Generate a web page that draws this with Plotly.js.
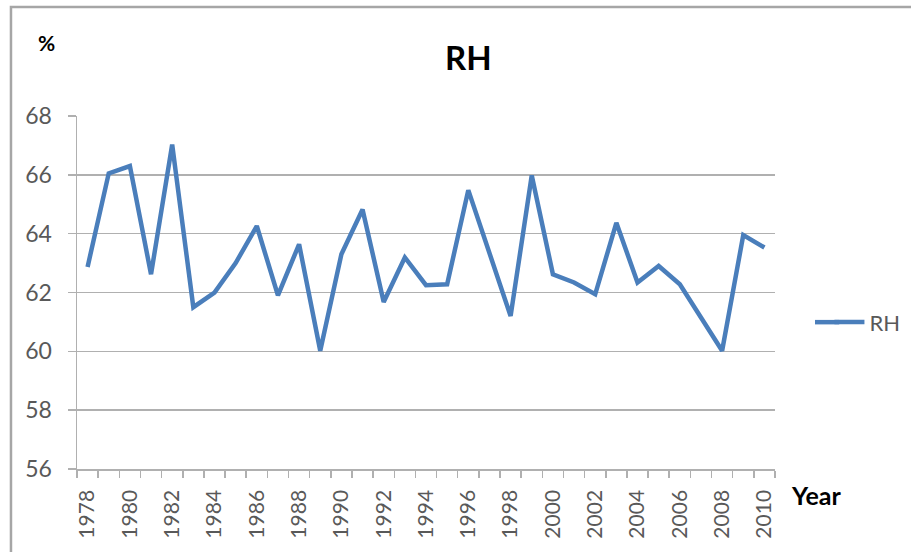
<!DOCTYPE html>
<html>
<head>
<meta charset="utf-8">
<script src="https://cdn.plot.ly/plotly-3.0.1.min.js"></script>
<style>html,body{margin:0;padding:0;background:#fff;}#chart{width:911px;height:552px;}</style>
</head>
<body>
<div id="chart"></div>
<script>
const years = [1978,1979,1980,1981,1982,1983,1984,1985,1986,1987,1988,1989,1990,1991,1992,1993,1994,1995,1996,1997,1998,1999,2000,2001,2002,2003,2004,2005,2006,2007,2008,2009,2010];
const rh = [62.87,66.05,66.3,62.62,67.03,61.5,62.0,63.0,64.26,61.9,63.64,60.02,63.3,64.82,61.68,63.19,62.25,62.28,65.48,63.3,61.2,65.98,62.62,62.34,61.94,64.37,62.34,62.9,62.28,61.15,60.02,63.95,63.53];
const tickYears = years.filter(y => y % 2 === 0);
const tickLabels = tickYears.map(String);
const seriesName = 'RH';

const font = 'Lato, "Open Sans", sans-serif';
const lineColor = '#4a7ebb';
const trace = {
  x: years, y: rh, type: 'scatter', mode: 'lines', name: seriesName,
  line: {color: lineColor, width: 4.5}
};
const layout = {
  width: 911, height: 552,
  margin: {l: 77, r: 136, t: 116, b: 83, autoexpand: false},
  paper_bgcolor: '#fff', plot_bgcolor: '#fff',
  font: {family: font, color: '#595959'},
  title: {text: '<b>RH</b>', x: 0.514, xref: 'container', y: 0.895, yref: 'container', yanchor: 'middle', xanchor: 'center', font: {size: 33, color: '#000', family: font}},
  xaxis: {
    range: [1977.5, 2010.5], tickvals: tickYears, ticktext: tickLabels, tickangle: -90, automargin: false,
    ticks: '', showgrid: false, zeroline: false, showline: true, linecolor: '#b0b0b0', linewidth: 1.5,
    tickfont: {size: 21, color: '#595959'}, ticklabelstandoff: 11,
    minor: {tick0: 1977.5, dtick: 1, ticks: 'outside', ticklen: 7, tickcolor: '#b0b0b0', tickwidth: 1.5, showgrid: false}
  },
  yaxis: {
    range: [56, 68], dtick: 2, tick0: 56, ticks: 'outside', ticklen: 8, tickcolor: '#b0b0b0', tickwidth: 1.5, automargin: false,
    showline: true, linecolor: '#b0b0b0', linewidth: 1.5, zeroline: false,
    gridcolor: '#b0b0b0', gridwidth: 1.5, tickfont: {size: 23, color: '#595959'}, ticklabelstandoff: 11
  },
  showlegend: true,
  legend: {x: 1.078, xanchor: 'left', y: 0.416, yanchor: 'middle', font: {size: 22, color: '#595959'}, bgcolor: 'rgba(0,0,0,0)', itemwidth: 30},
  annotations: [
    {text: '<b>%</b>', xref: 'paper', yref: 'paper', x: -0.044, y: 1.207, xanchor: 'center', yanchor: 'middle', showarrow: false, font: {size: 21, color: '#000'}},
    {text: '<b>Year</b>', xref: 'paper', yref: 'paper', x: 1.02, y: -0.074, xanchor: 'left', yanchor: 'middle', showarrow: false, font: {size: 25, color: '#000'}}
  ],
  shapes: [
    {type: 'path', xref: 'paper', yref: 'paper', path: 'M -0.0946,-0.3 L -0.0946,1.309 L 1.4,1.309', line: {color: '#a6a6a6', width: 2.5}},
    {type: 'line', xref: 'paper', yref: 'paper', x0: 1.0573, x1: 1.092, y0: 0.416, y1: 0.416, line: {color: lineColor, width: 4.5}}
  ]
};
Plotly.newPlot('chart', [trace], layout, {displayModeBar: false, staticPlot: true});
</script>
</body>
</html>
